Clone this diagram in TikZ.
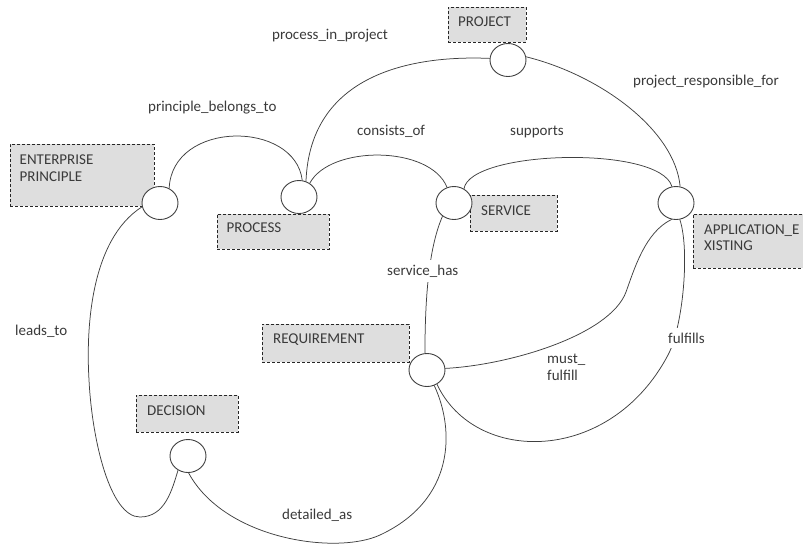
\documentclass[tikz,border=0pt]{standalone}
\usepackage{fontspec}
\setmainfont{Carlito}
\usetikzlibrary{shapes.geometric}
\definecolor{boxfill}{HTML}{DEDEDE}
\definecolor{ink}{HTML}{3A3A3A}
\definecolor{edgecol}{HTML}{404040}
\begin{document}
\begin{tikzpicture}[x=1pt,y=-1pt,
  entbox/.style={draw=black!85, dash pattern=on 3pt off 2pt, fill=boxfill, line width=0.8pt, inner sep=0pt},
  boxtext/.style={anchor=base west, inner sep=0pt, text=ink, font=\fontsize{15}{18}\selectfont},
  lbl/.style={anchor=base west, inner sep=0pt, text=ink, font=\fontsize{15}{18}\selectfont},
  lblw/.style={anchor=base west, inner xsep=2pt, inner ysep=5pt, fill=white, text=ink, font=\fontsize{15}{18}\selectfont},
  relcirc/.style={ellipse, draw=edgecol, fill=white, line width=0.9pt, minimum width=36pt, minimum height=33pt, inner sep=0pt},
  conn/.style={draw=edgecol, line width=0.75pt}]
\useasboundingbox (0,0) rectangle (803,552);
\clip (0,0) rectangle (803,552);
\fill[white] (0,0) rectangle (803,552);

% entity boxes
\node[entbox, minimum width=144pt, minimum height=62pt] (bEP) at (82,175) {};
\node[entbox, minimum width=112pt, minimum height=35pt] (bPR) at (273,231.5) {};
\node[entbox, minimum width=87pt, minimum height=36pt] (bSV) at (513.5,213) {};
\node[entbox, minimum width=115pt, minimum height=54pt] (bAP) at (750.5,241) {};
\node[entbox, minimum width=78pt, minimum height=35pt] (bPJ) at (487,24.5) {};
\node[entbox, minimum width=147pt, minimum height=38pt] (bRQ) at (335.5,343) {};
\node[entbox, minimum width=102pt, minimum height=37pt] (bDC) at (187,413.5) {};

\node[boxtext] (tEP1) at (19.5,164.3) {ENTERPRISE};
\node[boxtext] (tEP2) at (19.5,181.7) {PRINCIPLE};
\node[boxtext] (tPR) at (226.5,232.3) {PROCESS};
\node[boxtext] (tSV) at (481,215) {SERVICE};
\node[boxtext] (tAP1) at (704,234) {APPLICATION\_E};
\node[boxtext] (tAP2) at (704,250.5) {XISTING};
\node[boxtext] (tPJ) at (458,26.7) {PROJECT};
\node[boxtext] (tRQ) at (273,343.5) {REQUIREMENT};
\node[boxtext] (tDC) at (147,415.5) {DECISION};

% relation circles
\node[relcirc] (cEP) at (160,203) {};
\node[relcirc] (cPR) at (299,197) {};
\node[relcirc] (cSV) at (454,203) {};
\node[relcirc] (cAP) at (676,203) {};
\node[relcirc] (cPJ) at (508,60) {};
\node[relcirc] (cRQ) at (427,370) {};
\node[relcirc] (cDC) at (188,456) {};

% connectors
\draw[conn] (cEP.58) .. controls (172,120) and (295,120) .. (cPR.79);
\draw[conn] (cPR.66) .. controls (310,75) and (410,55) .. (cPJ.175);
\draw[conn] (cPJ.10) .. controls (600,75) and (675,130) .. (cAP.76);
\draw[conn] (cPR.52) .. controls (330,145) and (430,145) .. (cSV.114);
\draw[conn] (cSV.55) .. controls (470,150) and (660,145) .. (cAP.104);
\draw[conn] (cSV.229) .. controls (430,245) and (425,290) .. (cRQ.97);
\draw[conn] (cRQ.5) .. controls (510,365) and (610,335) .. (626,292)
            .. controls (634,270) and (645,232) .. (cAP.255);
\draw[conn] (cRQ.-55) .. controls (475,465) and (610,465) .. (668,355)
            .. controls (683,327) and (690,250) .. (cAP.283);
\draw[conn] (cRQ.-65) .. controls (455,430) and (455,500) .. (380,535)
            .. controls (337,555) and (225,540) .. (cDC.-88);
\draw[conn] (cEP.192) .. controls (90,240) and (86,330) .. (89,380)
            .. controls (92,440) and (110,517) .. (140,517)
            .. controls (165,517) and (172,490) .. (cDC.235);

% relation labels
\node[lbl] (lPB) at (148,111) {principle\_belongs\_to};
\node[lbl] (lPP) at (272,39) {process\_in\_project};
\node[lbl] (lCO) at (357,135) {consists\_of};
\node[lbl] (lSU) at (510,135) {supports};
\node[lbl] (lPRF) at (633,85) {project\_responsible\_for};
\node[lblw] (lSH) at (385,275) {service\_has};
\node[lblw] (lMF1) at (545,363) {must\_};
\node[lblw] (lMF2) at (545,380) {fulfill};
\node[lblw] (lFU) at (666,343) {fulfills};
\node[lbl] (lDA) at (282,519) {detailed\_as};
\node[lbl] (lLT) at (15,335) {leads\_to};
\end{tikzpicture}
\end{document}
